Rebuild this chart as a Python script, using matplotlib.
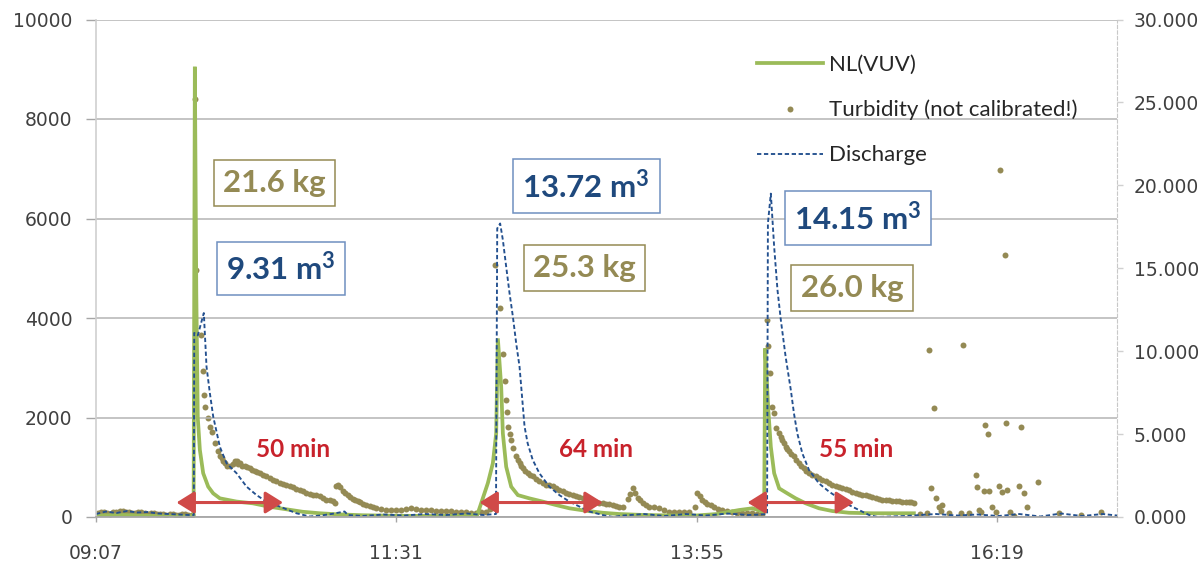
import matplotlib
matplotlib.use("Agg")
import matplotlib.pyplot as plt
from matplotlib.lines import Line2D
from matplotlib.ticker import FixedLocator, FuncFormatter

# time axis in minutes after midnight
# NL(VUV) signal (left axis)
nl_time = [547.2, 560, 575, 590, 594.0, 594.6, 595.3, 596.0, 597.0, 598.6, 601.0, 603.4,
           606.6, 614.6, 622.4, 630.5, 638.5, 646.3, 654.5, 662.5, 675, 690, 710, 725,
           730.1, 735.1, 737.5, 739.1, 739.9, 741.5, 742.3, 743.9, 746.3, 749.5, 755.0,
           761.4, 767.8, 774.2, 782.2, 790.2, 798.1, 810, 825, 835, 845, 855.6, 862.0,
           866.8, 867.6, 868.1, 869.6, 870.8, 872.4, 874.8, 878.7, 882.7, 887.5, 893.9,
           900.3, 908.3, 919.5, 927.5, 939.4]
nl_value = [30, 40, 20, 10, 20, 9050, 4500, 2000, 1350, 880, 610, 475,
            375, 310, 275, 205, 155, 105, 75, 55, 35, 25, 20, 25,
            50, 680, 1080, 1680, 3590, 2620, 1680, 1010, 610, 440, 375,
            310, 240, 175, 125, 85, 60, 40, 30, 30, 60, 140, 175,
            110, 110, 3390, 2150, 1410, 880, 575, 475, 375, 275, 175,
            120, 85, 75, 75, 75]

# turbidity, not calibrated (right axis)
turb_time = [548, 549.5, 551, 552.5, 554, 555.5, 557, 558.5, 560, 561.5, 563, 564.5, 566,
             567.5, 569, 570.5, 572, 573.5, 575, 576.5, 578, 579.5, 581, 582.5, 584, 585.5,
             587, 588.5, 590, 591.5, 593,
             594.6, 595.0, 597.5, 598.4, 599.0, 599.4, 601.0, 601.8, 602.6, 604.2, 605.8,
             606.6, 607.4, 608.2, 609.0, 610.2, 611.4, 612.8, 613.8, 614.6, 615.4, 616.2,
             617.4, 618.6, 619.8, 621.0, 622.2, 623.3, 624.5, 625.7, 627.3, 628.9, 630.5,
             632.1, 633.7, 635.3, 637.0, 638.5, 640.1, 641.7, 643.3, 644.9, 646.5, 648.1,
             649.7, 651.3, 652.9, 654.5, 656.1, 657.7, 659.3, 660.8, 661.7, 662.5, 663.3,
             664.1, 665.6, 666.8, 668.0, 669.2, 670.4, 671.6, 672.8, 674.0, 675.2, 676.8,
             678.4, 680.0, 681.6, 684.0, 686.4, 688.8, 691.2, 693.6, 696.0, 698.4, 700.8,
             703.2, 705.6, 708.0, 710.4, 712.8, 715.2, 717.6, 719.9, 722.3, 724.7, 727.1,
             729.5, 732.0, 734.3, 735.9,
             738.3, 741.0, 742.3, 743.1, 743.9, 744.3, 744.7, 745.5, 746.3, 747.1, 748.7,
             749.5, 750.3, 751.1, 751.9, 753.0, 754.2, 755.4, 756.6, 758.2, 759.8, 761.4,
             763.0, 764.6, 766.2, 767.8, 769.4, 771.0, 772.6, 774.2, 775.8, 777.4, 779.0,
             780.6, 782.2, 783.8, 785.4, 787.0, 788.6, 790.2, 791.8, 793.4, 795.0, 796.6,
             798.1, 799.7, 802.1, 803.3, 804.5, 805.7, 806.9, 808.1, 809.3, 810.9, 812.5,
             814.9, 817.3, 819.7, 822.1, 824.5, 826.9, 829.3, 831.7, 834.4, 835.6, 836.8,
             838.0, 839.2, 840.4, 842.0, 843.6, 845.6, 847.6, 850.0, 852.4, 854.8, 857.2,
             859.6, 862.0, 864.4, 866.8,
             869.2, 869.6, 870.3, 871.6, 872.4, 873.2, 874.8, 875.6, 876.3, 877.1, 877.9,
             878.7, 879.5, 880.7, 881.9, 883.1, 884.3, 885.5, 886.7, 887.9, 889.1, 890.7,
             892.3, 893.9, 895.5, 897.1, 898.7, 900.3, 901.9, 903.5, 905.1, 906.7, 908.3,
             909.9, 911.5, 913.1, 914.7, 916.3, 917.9, 919.5, 921.1, 922.7, 924.3, 925.9,
             927.5, 929.1, 930.7, 932.3, 933.8, 935.4, 937.0, 938.2, 939.4, 942.5,
             945.8, 946.6, 947.7, 949.0, 949.8, 951.4, 952.2, 953.0, 956.2, 961.8, 962.9,
             965.8, 969.0, 969.8, 970.5, 971.8, 972.9, 973.7, 974.8, 975.3, 976.9, 978.6,
             980.1, 980.5, 981.7, 983.0, 983.8, 984.1, 985.7, 987.3, 989.7, 991.0, 992.1,
             993.7, 999.0, 1008.9, 1019.3, 1028.9]
turb_value = [0.25, 0.3, 0.3, 0.22, 0.2, 0.28, 0.3, 0.35, 0.35, 0.3, 0.3, 0.25, 0.25,
              0.3, 0.3, 0.22, 0.2, 0.25, 0.25, 0.2, 0.2, 0.18, 0.15, 0.2, 0.2, 0.15,
              0.15, 0.18, 0.2, 0.15, 0.15,
              25.2, 14.9, 11.0, 8.8, 7.35, 6.65, 5.95, 5.45, 5.15, 4.45, 3.95,
              3.7, 3.55, 3.4, 3.25, 3.1, 3.05, 3.2, 3.4, 3.35, 3.2, 3.25,
              3.1, 3.05, 3.0, 2.95, 2.85, 2.75, 2.7, 2.65, 2.55, 2.45, 2.35,
              2.25, 2.15, 2.05, 2.0, 1.95, 1.85, 1.8, 1.7, 1.65, 1.55, 1.45,
              1.4, 1.35, 1.3, 1.25, 1.15, 1.05, 1.0, 0.95, 0.85, 1.85, 1.9,
              1.8, 1.55, 1.45, 1.35, 1.2, 1.1, 1.0, 0.95, 0.88, 0.8, 0.72,
              0.65, 0.6, 0.55, 0.5, 0.45, 0.45, 0.42, 0.45, 0.5, 0.52, 0.48,
              0.45, 0.42, 0.4, 0.38, 0.37, 0.36, 0.34, 0.32, 0.3, 0.28, 0.27,
              0.26, 0.3, 0.32, 0.5,
              15.2, 12.6, 9.8, 8.2, 7.05, 6.35, 5.45, 5.0, 4.65, 4.15, 3.65,
              3.45, 3.25, 3.1, 2.95, 2.8, 2.65, 2.55, 2.45, 2.3, 2.15, 2.05,
              1.95, 1.9, 1.85, 1.75, 1.65, 1.55, 1.45, 1.4, 1.35, 1.28, 1.2,
              1.12, 1.05, 1.0, 0.95, 0.9, 0.85, 0.82, 0.8, 0.76, 0.72, 0.68,
              0.62, 0.62, 1.1, 1.4, 1.75, 1.45, 1.15, 1.0, 0.85, 0.72, 0.62,
              0.58, 0.52, 0.42, 0.32, 0.32, 0.32, 0.32, 0.32, 0.6, 1.45, 1.25,
              1.05, 0.9, 0.8, 0.7, 0.6, 0.5, 0.42, 0.35, 0.28, 0.25, 0.22,
              0.22, 0.22, 0.2, 0.2,
              11.9, 10.3, 8.7, 6.65, 6.25, 5.35, 5.05, 4.85, 4.65, 4.45, 4.25,
              4.1, 3.95, 3.8, 3.65, 3.45, 3.25, 3.1, 2.95, 2.8, 2.65, 2.55,
              2.45, 2.35, 2.25, 2.15, 2.05, 1.95, 1.85, 1.8, 1.75, 1.68, 1.6,
              1.52, 1.45, 1.4, 1.35, 1.3, 1.25, 1.2, 1.15, 1.1, 1.05, 1.02,
              1.0, 0.98, 0.98, 0.95, 0.92, 0.9, 0.92, 0.88, 0.85, 0.2,
              0.22, 10.1, 1.73, 6.55, 1.13, 0.62, 0.38, 0.72, 0.22, 0.22, 10.4,
              0.22, 2.53, 1.83, 0.42, 0.3, 1.59, 5.55, 5.0, 1.59, 0.62, 0.32,
              1.89, 20.9, 1.53, 15.8, 5.65, 1.63, 0.3, 0.05, 1.89, 5.45, 1.43,
              0.58, 2.09, 0.22, 0.12, 0.32]

# discharge (left axis scale)
q_time = [547.2, 552, 557, 562, 567, 572, 577, 582, 587, 592, 594.1, 594.3, 596.0, 598.9,
          600.2, 601.8, 603.4, 606.6, 609.8, 614.6, 619.4, 624.2, 628.9, 635.3, 643.3,
          649.7, 655, 660, 666.4, 668, 675, 685, 695, 705, 715, 725, 733, 739.0,
          739.6, 741.0, 742.3, 743.9, 745.5, 747.1, 748.7, 750.3, 751.1, 751.9, 752.7,
          754.2, 756.6, 759.8, 764.6, 769.4, 774.2, 779.0, 783.8, 790.2, 795, 800, 810,
          820, 830, 840, 850, 860, 866, 869.0, 869.4, 870.8, 872.4, 874.0, 875.6, 877.9,
          880.4, 881.9, 883.5, 885.9, 889.1, 893.9, 898.7, 903.5, 908.3, 913.1, 917.9,
          922, 935, 950, 960, 970, 980, 990, 1000, 1010, 1020, 1030, 1036.8]
q_value = [60, 110, 80, 120, 90, 100, 70, 60, 50, 40, 40, 3700, 3650, 4100,
           3020, 2490, 2020, 1410, 1080, 880, 610, 440, 310, 210, 75,
           10, 30, 60, 110, 40, 20, 50, 30, 60, 40, 70, 40, 60,
           5800, 5900, 5570, 5030, 4500, 4030, 3490, 3020, 2620, 2220, 1820,
           1480, 1150, 880, 610, 440, 310, 210, 110, 40, 0, 30, 60,
           20, 60, 30, 70, 40, 50, 60, 5900, 6500, 5430, 4560, 3960, 3220,
           2550, 2080, 1680, 1280, 945, 675, 510, 375, 240, 140, 40,
           0, 20, 60, 30, 50, 20, 60, 10, 70, 20, 60, 30]

# event annotations
box_time = [632.9, 636.0, 782.3, 781.4, 912.6, 909.7]
box_level = [6713, 4995, 6653, 5005, 6010, 4603]
box_text = ["21.6 kg", "9.31 m$^{\\mathbf{3}}$", "13.72 m$^{\\mathbf{3}}$", "25.3 kg",
            "14.15 m$^{\\mathbf{3}}$", "26.0 kg"]

flush_start = [585.8, 731.1, 859.6]
flush_end = [636.9, 790.2, 910.7]
flush_text = ["50 min", "64 min", "55 min"]
flush_text_time = [641.5, 787.1, 911.6]

GREEN = "#9BBB59"
OLIVE = "#948A54"
BLUE = "#23508F"
RED = "#C8222B"
GRID = "#B4B4B4"

plt.rcParams["font.family"] = ["DejaVu Sans"]
plt.rcParams["mathtext.fontset"] = "custom"
plt.rcParams["mathtext.bf"] = "Lato:bold"
plt.rcParams["mathtext.rm"] = "Lato"

fig = plt.figure(figsize=(12.03, 5.62), dpi=100)
ax = fig.add_axes([96 / 1203, 1 - 517 / 562, 1021 / 1203, 497.5 / 562])
ax2 = ax.twinx()
ax.set_zorder(ax2.get_zorder() + 1)
ax.patch.set_visible(False)

ax2.plot(turb_time, turb_value, "o", color=OLIVE, ms=4.3, mew=0)
ax.plot(nl_time, nl_value, color=GREEN, lw=2.7, solid_joinstyle="miter")
ax.plot(q_time, q_value, color=BLUE, lw=1.35, ls=(0, (2.3, 1.4)))

ax.set_xlim(0.38 * 1440, 0.72 * 1440)
ax.set_ylim(0, 10000)
ax2.set_ylim(0, 30)

ax.xaxis.set_major_locator(FixedLocator([0.38 * 1440, 0.48 * 1440, 0.58 * 1440, 0.68 * 1440]))
ax.xaxis.set_major_formatter(FuncFormatter(lambda v, p: "%02d:%02d" % (int(v + 0.01) // 60, int(v + 0.01) % 60)))
ax.set_yticks(range(0, 10001, 2000))
ax2.set_yticks(range(0, 31, 5))
ax2.yaxis.set_major_formatter(FuncFormatter(lambda v, p: "%.3f" % v))

ax.grid(axis="y", color=GRID, lw=1.1)
ax.set_axisbelow(True)
for a in (ax, ax2):
    a.spines["top"].set_visible(False)
ax.spines["left"].set_color("#D0D0D0")
ax.spines["left"].set_linewidth(1.2)
ax.spines["bottom"].set_color("#A6A6A6")
ax.spines["bottom"].set_linewidth(1.3)
ax2.spines["right"].set_color("#C8C8C8")
ax2.spines["right"].set_linestyle((0, (3, 2)))
ax2.spines["left"].set_visible(False)
ax2.spines["bottom"].set_visible(False)
ax.spines["right"].set_visible(False)

ax.tick_params(axis="y", length=7, width=1, color="#A6A6A6", pad=10, labelsize=13.5, labelcolor="#404040")
ax.tick_params(axis="x", length=3.5, width=1, color="#A6A6A6", pad=16, labelsize=13.5, labelcolor="#404040")
ax2.tick_params(axis="y", length=4, width=1, color="#D0D0D0", pad=8, labelsize=13.5, labelcolor="#404040")

# volume / load boxes
for t, lev, txt in zip(box_time, box_level, box_text):
    if txt.endswith("kg"):
        tc, ec = OLIVE, OLIVE
    else:
        tc, ec = "#1F497D", "#6F8FC0"
    ax.text(t, lev, txt, ha="center", va="center", color=tc, fontsize=22.5,
            fontweight="bold", family=["Lato", "DejaVu Sans"], zorder=6,
            bbox=dict(boxstyle="square,pad=0.3", fc="white", ec=ec, lw=1.1))

# flush duration arrows
for t0, t1, txt, tt in zip(flush_start, flush_end, flush_text, flush_text_time):
    ax.annotate("", xy=(t1, 291), xytext=(t0, 291),
                arrowprops=dict(arrowstyle="<|-|>,head_length=0.45,head_width=0.28",
                                color="#D04A48", lw=2.2, mutation_scale=24,
                                shrinkA=0, shrinkB=0), zorder=7)
    ax.text(tt, 1360, txt, ha="center", va="center", color=RED, fontsize=17.5,
            fontweight="bold", family=["Lato", "DejaVu Sans"], zorder=7)

handles = [Line2D([], [], color=GREEN, lw=2.7),
           Line2D([], [], ls="", marker="o", color=OLIVE, ms=4.3, mew=0),
           Line2D([], [], color=BLUE, lw=1.35, ls=(0, (2.3, 1.4)))]
labels = ["NL(VUV)", "Turbidity (not calibrated!)", "Discharge"]
leg = ax.legend(handles, labels, loc="upper left", bbox_to_anchor=(757 / 1203, 1 - 55 / 562),
                bbox_transform=fig.transFigure, frameon=False, borderpad=0, borderaxespad=0,
                handlelength=2.95, handletextpad=0.3, labelspacing=1.12, numpoints=1,
                prop=dict(family=["Lato", "DejaVu Sans"], size=16))
for t in leg.get_texts():
    t.set_color("#262626")

fig.savefig("out.png", dpi=100)
